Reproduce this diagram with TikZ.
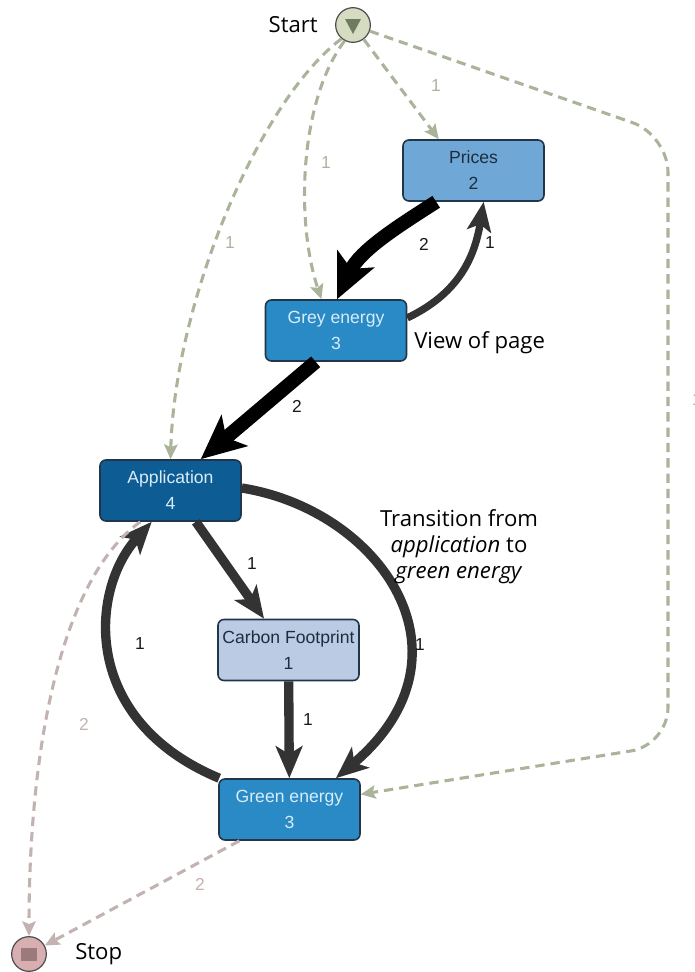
\documentclass[tikz,border=0pt]{standalone}
\usepackage{fontspec}
\setmainfont{Liberation Sans}
\newfontfamily\notefont{Open Sans}
\usetikzlibrary{arrows.meta}

\definecolor{boxline}{HTML}{22364A}
\definecolor{pricesfill}{HTML}{6FA8D6}
\definecolor{midfill}{HTML}{2A8AC5}
\definecolor{appfill}{HTML}{0E5C94}
\definecolor{carbonfill}{HTML}{BCCBE4}
\definecolor{darktext}{HTML}{1E2D3D}
\definecolor{lighttext}{HTML}{D8ECF8}
\definecolor{flowgrey}{HTML}{333333}
\definecolor{startdash}{HTML}{A9B49B}
\definecolor{stopdash}{HTML}{C2B2B0}
\definecolor{startfill}{HTML}{D6DCC2}
\definecolor{startmark}{HTML}{6E7B5C}
\definecolor{stopfill}{HTML}{D8AFB0}
\definecolor{stopmark}{HTML}{9C7A7B}

\tikzset{
  pagebox/.style={draw=boxline, line width=1.2pt, rounded corners=4.5pt,
    minimum width=105.75pt, minimum height=45.75pt, inner sep=0pt,
    align=center, font=\fontsize{13.2}{19.5}\selectfont},
  terminal/.style={circle, draw=black!70, line width=0.9pt, minimum size=26pt, inner sep=0pt},
  heavy/.style={draw=black, line width=10.5pt,
    -{Stealth[length=33pt,width=30pt,inset=8pt]}},
  flow/.style={draw=flowgrey, line width=7pt,
    -{Stealth[length=24pt,width=20pt,inset=6pt]}},
  thinflow/.style={draw=flowgrey, line width=5.5pt,
    -{Stealth[length=22pt,width=18pt,inset=5pt]}},
  startflow/.style={draw=startdash, line width=2.3pt, dash pattern=on 7pt off 4.5pt,
    -{Stealth[length=11pt,width=10pt,inset=2pt]}},
  stopflow/.style={draw=stopdash, line width=2.3pt, dash pattern=on 7pt off 4.5pt,
    -{Stealth[length=11pt,width=10pt,inset=2pt]}},
  countlbl/.style={font=\fontsize{13}{15}\selectfont, text=black!90, inner sep=0pt},
  startlbl/.style={countlbl, text=startdash},
  stoplbl/.style={countlbl, text=stopdash},
  note/.style={font=\notefont\fontsize{16.6}{19.5}\selectfont, text=black, inner sep=0pt, align=center}
}

\begin{document}
\begin{tikzpicture}[x=0.75pt,y=-0.75pt]
\useasboundingbox (0,0) rectangle (694,972);

% terminals
\node[terminal, fill=startfill] (start) at (353,25) {};
\fill[startmark] ([shift={(-8,-6)}]start.center) -- ([shift={(8,-6)}]start.center)
  -- ([shift={(0,9)}]start.center) -- cycle;
\node[note, anchor=east] (startname) at (318,25) {Start};

\node[terminal, fill=stopfill] (stop) at (29,954) {};
\fill[stopmark] ([shift={(-8,-6.5)}]stop.center) rectangle ([shift={(8,6.5)}]stop.center);
\node[note, anchor=west] (stopname) at (75,954) {Stop};

% pages
\node[pagebox, fill=pricesfill, text=darktext] (prices) at (473.5,170.5) {Prices\\2};
\node[pagebox, fill=midfill, text=lighttext] (grey) at (336,330.5) {Grey energy\\3};
\node[pagebox, fill=appfill, text=lighttext] (app) at (170.5,490.5) {Application\\4};
\node[pagebox, fill=carbonfill, text=darktext] (carbon) at (288.5,650) {Carbon Footprint\\1};
\node[pagebox, fill=midfill, text=lighttext] (green) at (289.5,809.5) {Green energy\\3};

% entries from start
\draw[startflow] (start) -- (prices.138);
\draw[startflow] (start.-118) .. controls (300,100) and (295,220) .. (grey.115);
\draw[startflow] (start.-130) .. controls (260,100) and (175,300) .. (app.north);
\draw[startflow, rounded corners=28pt] (start.-20) -- (668,135) -- (668,745) -- (green.12);

% transitions between pages
\draw[heavy] (prices.-140) .. controls (400,225) and (360,250) .. (grey.88);
\draw[thinflow] (grey.10) .. controls (455,295) and (474,262) .. (prices.-72);
\draw[heavy] (grey.-123) -- (app.46);
\draw[flow] (app.-51) -- (carbon.128);
\draw[flow] (app.2) .. controls (380,510) and (482,655) .. (green.34);
\draw[flow] (green.156) .. controls (80,720) and (90,590) .. (app.-121);
\draw[flow] (carbon) -- (green);

% exits to stop
\draw[stopflow] (app.-134) .. controls (60,580) and (29,750) .. (stop.north);
\draw[stopflow] (green.-148) -- (stop);

% counts
\node[startlbl] (c1) at (436,86) {1};
\node[startlbl] (c2) at (326,163) {1};
\node[startlbl] (c3) at (230,243) {1};
\node[startlbl] (c4) at (697,400) {1};
\node[countlbl] (c5) at (424,244) {2};
\node[countlbl] (c6) at (490,243) {1};
\node[countlbl] (c7) at (297,406) {2};
\node[countlbl] (c8) at (252,564) {1};
\node[countlbl] (c9) at (420,645) {1};
\node[countlbl] (c10) at (140,644) {1};
\node[countlbl] (c11) at (308,720) {1};
\node[stoplbl] (c12) at (84,724) {2};
\node[stoplbl] (c13) at (200,884) {2};

% annotations
\node[note, anchor=west] (viewnote) at (414,343) {View of page};
\node[note] (transnote) at (459,547) {Transition from\\\textit{application} to\\\textit{green energy}};
\end{tikzpicture}
\end{document}
